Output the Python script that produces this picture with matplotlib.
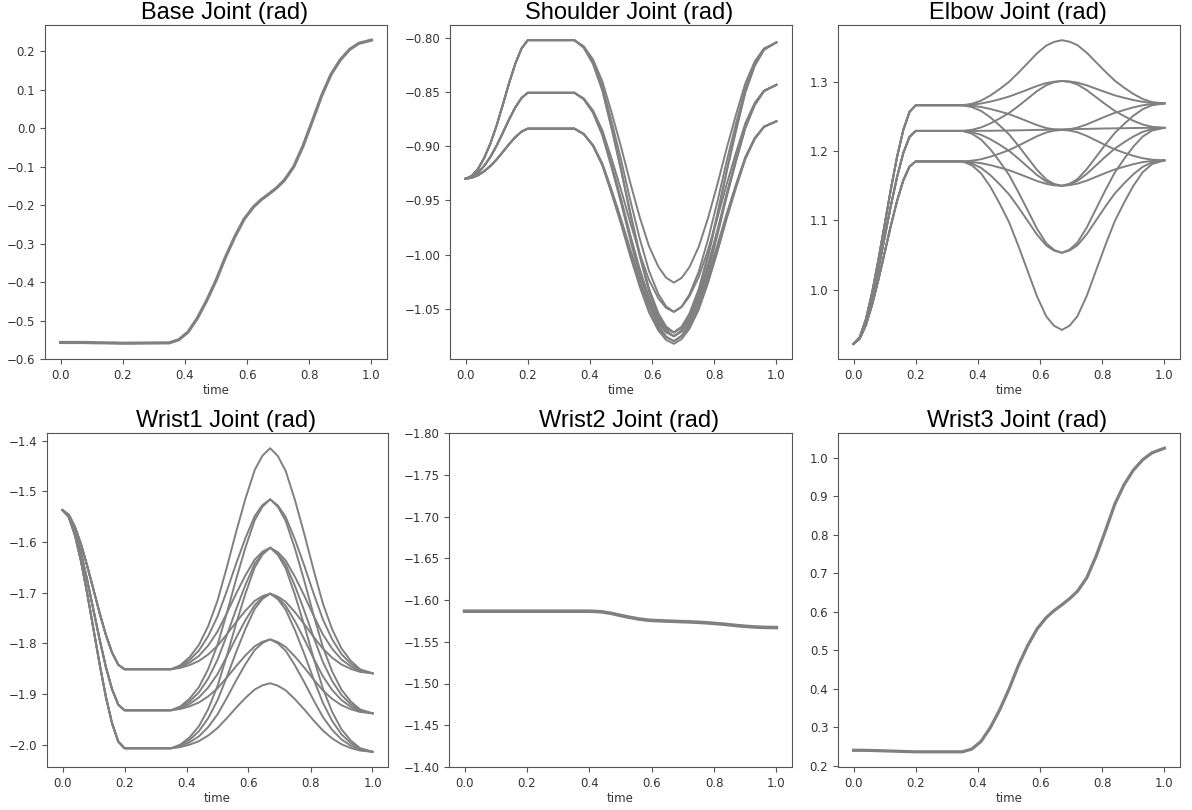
import matplotlib
matplotlib.use('Agg')
import matplotlib.pyplot as plt

plt.rcParams['font.family'] = ['DejaVu Sans']

# time samples: approach move (0 - 0.2), hold, then the main move (0.35 - 1.0)
t_approach = [0.0, 0.02, 0.04, 0.06, 0.08, 0.10, 0.12, 0.14, 0.16, 0.18, 0.20]
t_move = [0.35, 0.38, 0.41, 0.44, 0.47, 0.50, 0.53, 0.56, 0.59, 0.62, 0.645, 0.67,
          0.695, 0.72, 0.75, 0.78, 0.81, 0.84, 0.87, 0.90, 0.93, 0.96, 1.00]
time = t_approach + t_move

# ---- Base joint (single trajectory) ----
base_approach = [-0.557, -0.557, -0.557, -0.557, -0.5572, -0.5575, -0.5578, -0.558, -0.5583, -0.5586, -0.559]
base_move = [-0.558, -0.550, -0.530, -0.494, -0.448, -0.396, -0.336, -0.283, -0.237, -0.205, -0.186, -0.171,
             -0.155, -0.135, -0.100, -0.046, 0.019, 0.085, 0.140, 0.178, 0.205, 0.221, 0.229]

# ---- Shoulder joint (3 via levels x 4 mid points) ----
shoulder_approach = [
    [-0.930, -0.9274, -0.921, -0.9108, -0.8974, -0.8807, -0.8615, -0.8417, -0.8238, -0.8097, -0.802],
    [-0.930, -0.9284, -0.9244, -0.9181, -0.9098, -0.8994, -0.8875, -0.8752, -0.8641, -0.8554, -0.8506],
    [-0.930, -0.9291, -0.9268, -0.9231, -0.9182, -0.9122, -0.9052, -0.8981, -0.8916, -0.8865, -0.8837],
]
shoulder_moves = [
    [-0.802, -0.8076, -0.8198, -0.84, -0.8691, -0.9004, -0.934, -0.9653, -0.9922, -1.0112, -1.0214, -1.026,
     -1.0216, -1.0117, -0.9929, -0.9663, -0.9352, -0.9018, -0.8707, -0.8418, -0.8217, -0.8096, -0.804],
    [-0.802, -0.8083, -0.822, -0.8446, -0.8772, -0.9123, -0.9499, -0.985, -1.0151, -1.0365, -1.0479, -1.053,
     -1.0481, -1.037, -1.0158, -0.986, -0.9511, -0.9137, -0.8788, -0.8464, -0.8239, -0.8103, -0.804],
    [-0.802, -0.8087, -0.8235, -0.8478, -0.8829, -0.9207, -0.9611, -0.9989, -1.0313, -1.0542, -1.0665, -1.072,
     -1.0667, -1.0547, -1.032, -0.9999, -0.9623, -0.9221, -0.8845, -0.8496, -0.8254, -0.8107, -0.804],
    [-0.802, -0.8088, -0.8238, -0.8484, -0.884, -0.9222, -0.9632, -1.0014, -1.0342, -1.0575, -1.07, -1.0755,
     -1.0702, -1.058, -1.0349, -1.0024, -0.9644, -0.9236, -0.8856, -0.8502, -0.8257, -0.8108, -0.804],
    [-0.8506, -0.8558, -0.8669, -0.8852, -0.9117, -0.9402, -0.9707, -0.9992, -1.0234, -1.0404, -1.0493, -1.053,
     -1.0485, -1.0387, -1.0207, -0.9956, -0.9662, -0.9349, -0.9058, -0.8787, -0.8599, -0.8485, -0.8432],
    [-0.8506, -0.8562, -0.8684, -0.8885, -0.9174, -0.9486, -0.982, -1.0131, -1.0396, -1.0582, -1.0679, -1.072,
     -1.0671, -1.0565, -1.0369, -1.0095, -0.9775, -0.9433, -0.9115, -0.882, -0.8614, -0.8489, -0.8432],
    [-0.8506, -0.8563, -0.8687, -0.889, -0.9185, -0.9501, -0.984, -1.0156, -1.0425, -1.0614, -1.0713, -1.0755,
     -1.0705, -1.0597, -1.0398, -1.012, -0.9795, -0.9448, -0.9126, -0.8825, -0.8617, -0.849, -0.8432],
    [-0.8506, -0.8564, -0.869, -0.8898, -0.9198, -0.9521, -0.9867, -1.0189, -1.0464, -1.0657, -1.0757, -1.08,
     -1.0749, -1.064, -1.0437, -1.0153, -0.9822, -0.9468, -0.9139, -0.8833, -0.862, -0.8491, -0.8432],
    [-0.8837, -0.8885, -0.8988, -0.9159, -0.9406, -0.9671, -0.9954, -1.0219, -1.0445, -1.0603, -1.0686, -1.072,
     -1.0678, -1.0587, -1.042, -1.0186, -0.9913, -0.9622, -0.9351, -0.9099, -0.8924, -0.8818, -0.8769],
    [-0.8837, -0.8886, -0.8991, -0.9165, -0.9416, -0.9686, -0.9975, -1.0244, -1.0474, -1.0636, -1.072, -1.0755,
     -1.0712, -1.062, -1.0449, -1.0211, -0.9934, -0.9637, -0.9361, -0.9105, -0.8927, -0.8819, -0.8769],
    [-0.8837, -0.8887, -0.8995, -0.9172, -0.943, -0.9706, -1.0002, -1.0277, -1.0513, -1.0678, -1.0764, -1.08,
     -1.0756, -1.0662, -1.0488, -1.0244, -0.9961, -0.9657, -0.9375, -0.9112, -0.8931, -0.882, -0.8769],
    [-0.8837, -0.8888, -0.8997, -0.9177, -0.9437, -0.9717, -1.0016, -1.0295, -1.0534, -1.0702, -1.0789, -1.0825,
     -1.0781, -1.0686, -1.0509, -1.0262, -0.9975, -0.9668, -0.9382, -0.9117, -0.8933, -0.8821, -0.8769],
]

# ---- Elbow joint ----
elbow_approach = [
    [0.922, 0.9316, 0.9578, 0.9963, 1.0431, 1.094, 1.1449, 1.1917, 1.2302, 1.2564, 1.266],
    [0.922, 0.9306, 0.9539, 0.9883, 1.0301, 1.0755, 1.1209, 1.1627, 1.1971, 1.2204, 1.229],
    [0.922, 0.9294, 0.9494, 0.9788, 1.0146, 1.0535, 1.0924, 1.1282, 1.1576, 1.1776, 1.185],
]
elbow_moves = [
    [1.266, 1.268, 1.2726, 1.28, 1.2893, 1.2997, 1.3128, 1.3267, 1.3408, 1.3521, 1.3573, 1.3598,
     1.3576, 1.3527, 1.3417, 1.328, 1.3144, 1.3015, 1.2914, 1.2823, 1.275, 1.2706, 1.2686],
    [1.266, 1.2667, 1.2685, 1.2712, 1.2746, 1.2785, 1.2834, 1.2885, 1.2938, 1.298, 1.3, 1.301,
     1.3003, 1.2986, 1.2947, 1.2898, 1.285, 1.2803, 1.2767, 1.2735, 1.2709, 1.2693, 1.2686],
    [1.266, 1.2652, 1.2635, 1.2606, 1.257, 1.2532, 1.2481, 1.2427, 1.2374, 1.2331, 1.2312, 1.2305,
     1.2315, 1.2337, 1.2383, 1.244, 1.2497, 1.255, 1.2591, 1.2629, 1.2659, 1.2678, 1.2686],
    [1.266, 1.2634, 1.2579, 1.2485, 1.2368, 1.2241, 1.2077, 1.1902, 1.1728, 1.1589, 1.1525, 1.1498,
     1.1528, 1.1595, 1.1737, 1.1915, 1.2093, 1.2259, 1.2389, 1.2508, 1.2603, 1.266, 1.2686],
    [1.229, 1.2305, 1.234, 1.2397, 1.2469, 1.2548, 1.2648, 1.2755, 1.2863, 1.2949, 1.2991, 1.301,
     1.2996, 1.296, 1.2878, 1.2776, 1.2675, 1.2579, 1.2504, 1.2436, 1.2382, 1.2349, 1.2334],
    [1.229, 1.229, 1.2291, 1.2292, 1.2294, 1.2296, 1.2298, 1.2301, 1.2304, 1.2306, 1.2309, 1.2311,
     1.2314, 1.2317, 1.2319, 1.2322, 1.2325, 1.2327, 1.2329, 1.2331, 1.2333, 1.2334, 1.2334],
    [1.229, 1.2272, 1.2234, 1.217, 1.2091, 1.2003, 1.1891, 1.1773, 1.1654, 1.1558, 1.1516, 1.1498,
     1.1521, 1.1569, 1.1669, 1.1794, 1.1918, 1.2034, 1.2126, 1.2209, 1.2276, 1.2316, 1.2334],
    [1.229, 1.2251, 1.2166, 1.2025, 1.1849, 1.1656, 1.1408, 1.1145, 1.0881, 1.0669, 1.0574, 1.0532,
     1.0579, 1.068, 1.0896, 1.1166, 1.1435, 1.1687, 1.1884, 1.2064, 1.2208, 1.2295, 1.2334],
    [1.185, 1.186, 1.1881, 1.1918, 1.1963, 1.2013, 1.2077, 1.2145, 1.2213, 1.2268, 1.2293, 1.2305,
     1.2295, 1.2271, 1.2218, 1.2152, 1.2086, 1.2024, 1.1975, 1.1931, 1.1896, 1.1875, 1.1865],
    [1.185, 1.1842, 1.1825, 1.1797, 1.1761, 1.1723, 1.1673, 1.1621, 1.1568, 1.1526, 1.1506, 1.1498,
     1.1508, 1.1529, 1.1573, 1.1628, 1.1682, 1.1734, 1.1773, 1.181, 1.184, 1.1857, 1.1865],
    [1.185, 1.1821, 1.1757, 1.1652, 1.152, 1.1375, 1.119, 1.0993, 1.0795, 1.0637, 1.0564, 1.0532,
     1.0566, 1.064, 1.08, 1.1, 1.1199, 1.1386, 1.1532, 1.1665, 1.1772, 1.1836, 1.1865],
    [1.185, 1.1796, 1.1679, 1.1485, 1.1242, 1.0975, 1.0634, 1.027, 0.9905, 0.9614, 0.948, 0.942,
     0.9482, 0.9617, 0.991, 1.0277, 1.0643, 1.0986, 1.1254, 1.1498, 1.1694, 1.1811, 1.1865],
]

# ---- Wrist1 joint ----
wrist1_approach = [
    [-1.537, -1.5458, -1.5697, -1.6048, -1.6475, -1.694, -1.7405, -1.7832, -1.8183, -1.8422, -1.851],
    [-1.537, -1.5481, -1.5781, -1.6223, -1.676, -1.7345, -1.793, -1.8467, -1.8909, -1.9209, -1.932],
    [-1.537, -1.5502, -1.5859, -1.6385, -1.7024, -1.772, -1.8416, -1.9055, -1.9581, -1.9938, -2.007],
]
wrist1_moves = [
    [-1.851, -1.8431, -1.827, -1.803, -1.7658, -1.7156, -1.6499, -1.58, -1.5144, -1.4576, -1.4294, -1.4145,
     -1.4304, -1.4594, -1.5173, -1.5839, -1.6548, -1.7213, -1.7723, -1.8101, -1.8345, -1.851, -1.859],
    [-1.851, -1.8449, -1.8325, -1.8141, -1.7855, -1.7469, -1.6964, -1.6426, -1.5922, -1.5485, -1.5269, -1.5155,
     -1.5279, -1.5503, -1.5951, -1.6465, -1.7013, -1.7526, -1.792, -1.8212, -1.84, -1.8528, -1.859],
    [-1.851, -1.8466, -1.8378, -1.8246, -1.8041, -1.7765, -1.7403, -1.7018, -1.6657, -1.6345, -1.619, -1.611,
     -1.62, -1.6363, -1.6686, -1.7057, -1.7452, -1.7822, -1.8106, -1.8317, -1.8453, -1.8545, -1.859],
    [-1.851, -1.8482, -1.8428, -1.8345, -1.8218, -1.8046, -1.782, -1.758, -1.7355, -1.7161, -1.7066, -1.7017,
     -1.7076, -1.7179, -1.7384, -1.7619, -1.7869, -1.8103, -1.8283, -1.8416, -1.8503, -1.8561, -1.859],
    [-1.932, -1.9245, -1.909, -1.8862, -1.8507, -1.8028, -1.7402, -1.6735, -1.6109, -1.5567, -1.5299, -1.5155,
     -1.5306, -1.5581, -1.6131, -1.6764, -1.7439, -1.8071, -1.8556, -1.8915, -1.9147, -1.9304, -1.938],
    [-1.932, -1.9262, -1.9143, -1.8967, -1.8693, -1.8324, -1.7841, -1.7327, -1.6844, -1.6427, -1.622, -1.611,
     -1.6227, -1.6441, -1.6866, -1.7356, -1.7878, -1.8367, -1.8742, -1.902, -1.92, -1.9321, -1.938],
    [-1.932, -1.9278, -1.9193, -1.9066, -1.887, -1.8605, -1.8258, -1.7889, -1.7542, -1.7243, -1.7096, -1.7017,
     -1.7103, -1.7257, -1.7564, -1.7918, -1.8295, -1.8648, -1.8919, -1.9119, -1.925, -1.9337, -1.938],
    [-1.932, -1.9294, -1.9242, -1.9166, -1.9046, -1.8885, -1.8674, -1.8449, -1.8238, -1.8056, -1.7967, -1.792,
     -1.7974, -1.807, -1.826, -1.8478, -1.8711, -1.8928, -1.9095, -1.9219, -1.9299, -1.9353, -1.938],
    [-2.007, -1.9998, -1.9852, -1.9635, -1.9297, -1.8841, -1.8246, -1.7611, -1.7017, -1.6501, -1.6246, -1.611,
     -1.6254, -1.6517, -1.7042, -1.7645, -1.8289, -1.8891, -1.9354, -1.9697, -1.9918, -2.0067, -2.014],
    [-2.007, -2.0014, -1.9902, -1.9734, -1.9474, -1.9122, -1.8663, -1.8173, -1.7715, -1.7318, -1.7121, -1.7017,
     -1.7129, -1.7334, -1.774, -1.8207, -1.8706, -1.9172, -1.9531, -1.9796, -1.9968, -2.0083, -2.014],
    [-2.007, -2.0031, -1.9952, -1.9834, -1.965, -1.9402, -1.9078, -1.8733, -1.841, -1.813, -1.7992, -1.792,
     -1.8, -1.8146, -1.8435, -1.8767, -1.9121, -1.9452, -1.9707, -1.9896, -2.0018, -2.01, -2.014],
    [-2.007, -2.0046, -2.0, -1.9929, -1.9819, -1.967, -1.9477, -1.927, -1.9077, -1.891, -1.8828, -1.8786,
     -1.8836, -1.8926, -1.9102, -1.9304, -1.952, -1.972, -1.9876, -1.9991, -2.0066, -2.0115, -2.014],
]

# which via level (approach curve) each move starts from
via_group = [0, 0, 0, 0, 1, 1, 1, 1, 2, 2, 2, 2]

# ---- Wrist2 joint (single trajectory) ----
wrist2_approach = [-1.5866] * 11
wrist2_move = [-1.5866, -1.5866, -1.5865, -1.5858, -1.584, -1.5815, -1.5792, -1.5772, -1.5758, -1.5752, -1.5748,
               -1.5745, -1.5741, -1.5738, -1.5733, -1.5726, -1.5717, -1.5707, -1.5695, -1.5685, -1.5677,
               -1.5672, -1.567]

# ---- Wrist3 joint (single trajectory) ----
wrist3_approach = [0.240, 0.240, 0.2398, 0.2395, 0.239, 0.2385, 0.238, 0.2375, 0.237, 0.2365, 0.236]
wrist3_move = [0.236, 0.243, 0.263, 0.299, 0.345, 0.399, 0.46, 0.512, 0.555, 0.585, 0.603, 0.618,
               0.634, 0.653, 0.688, 0.744, 0.81, 0.879, 0.930, 0.968, 0.995, 1.013, 1.025]

titles = ['Base Joint (rad)', 'Shoulder Joint (rad)', 'Elbow Joint (rad)',
          'Wrist1 Joint (rad)', 'Wrist2 Joint (rad)', 'Wrist3 Joint (rad)']

LINE = '#808080'
W, H = 1192, 810


def make_axes(fig, left, top, right, bottom):
    # positions given in pixels from the top-left corner
    return fig.add_axes([left / W, 1 - bottom / H, (right - left) / W, (bottom - top) / H])


def style(ax, title, yticks):
    ax.set_title(title, fontsize=17, family='Liberation Sans', pad=4, x=0.525)
    ax.set_xlabel('time', fontsize=8.5, color='#333333', labelpad=2)
    ax.set_xticks([0.0, 0.2, 0.4, 0.6, 0.8, 1.0])
    ax.set_yticks(yticks)
    ax.tick_params(labelsize=8.5, colors='#555555', labelcolor='#333333')
    for s in ax.spines.values():
        s.set_color('#555555')


fig = plt.figure(figsize=(W / 100, H / 100), dpi=100)

ax_base = make_axes(fig, 45, 25, 387, 359)
ax_sh = make_axes(fig, 450, 25, 792, 359)
ax_el = make_axes(fig, 838, 25, 1180, 359)
ax_w1 = make_axes(fig, 47, 433, 388, 767)
ax_w2 = make_axes(fig, 449, 433, 792, 767)
ax_w3 = make_axes(fig, 838, 433, 1180, 767)

ax_base.plot(time, base_approach + base_move, color=LINE, lw=2.3)
ax_w2.plot(time, wrist2_approach + wrist2_move, color=LINE, lw=2.6)
ax_w3.plot(time, wrist3_approach + wrist3_move, color=LINE, lw=2.3)

for ax, approach, moves in [(ax_sh, shoulder_approach, shoulder_moves),
                            (ax_el, elbow_approach, elbow_moves),
                            (ax_w1, wrist1_approach, wrist1_moves)]:
    for g, m in zip(via_group, moves):
        ax.plot(time, approach[g] + m, color=LINE, lw=1.4)

style(ax_base, titles[0], [-0.6, -0.5, -0.4, -0.3, -0.2, -0.1, 0.0, 0.1, 0.2])
style(ax_sh, titles[1], [-1.05, -1.00, -0.95, -0.90, -0.85, -0.80])
style(ax_el, titles[2], [1.0, 1.1, 1.2, 1.3])
style(ax_w1, titles[3], [-2.0, -1.9, -1.8, -1.7, -1.6, -1.5, -1.4])
style(ax_w2, titles[4], [-1.80, -1.75, -1.70, -1.65, -1.60, -1.55, -1.50, -1.45, -1.40])
style(ax_w3, titles[5], [0.2, 0.3, 0.4, 0.5, 0.6, 0.7, 0.8, 0.9, 1.0])

# wrist2 axis runs from -1.80 at the top to -1.40 at the bottom
ax_w2.set_ylim(-1.40, -1.80)

fig.savefig('out.png', dpi=100)
